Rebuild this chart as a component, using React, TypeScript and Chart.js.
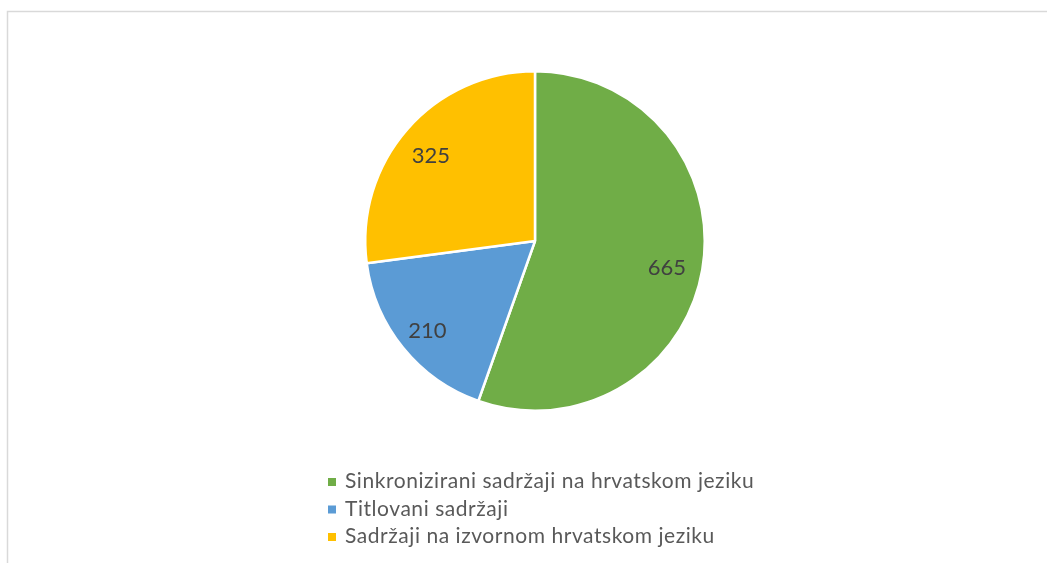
import React, { useEffect, useRef } from "react";
import { Chart, registerables } from "chart.js";

Chart.register(...registerables);

const categories = [
  "Sinkronizirani sadržaji na hrvatskom jeziku",
  "Titlovani sadržaji",
  "Sadržaji na izvornom hrvatskom jeziku",
];
const values = [665, 210, 325];
const colors = ["#70AD47", "#5B9BD5", "#FFC000"];

const W = 1047;
const H = 563;

const framePlugin = {
  id: "frame",
  beforeDraw(chart: any) {
    const ctx = chart.ctx;
    ctx.save();
    ctx.fillStyle = "#ffffff";
    ctx.fillRect(0, 0, chart.width, chart.height);
    ctx.strokeStyle = "#d9d9d9";
    ctx.lineWidth = 1.5;
    ctx.strokeRect(7.5, 11.5, chart.width + 20, chart.height + 20);
    ctx.restore();
  },
};

const labelsPlugin = {
  id: "sliceLabels",
  afterDatasetsDraw(chart: any) {
    const ctx = chart.ctx;
    const meta = chart.getDatasetMeta(0);
    const data = chart.data.datasets[0].data as number[];
    ctx.save();
    ctx.font = "22px Lato";
    ctx.fillStyle = "#404040";
    ctx.textAlign = "center";
    ctx.textBaseline = "middle";
    meta.data.forEach((arc: any, i: number) => {
      const p = arc.getProps(["x", "y", "startAngle", "endAngle", "outerRadius"], true);
      const mid = (p.startAngle + p.endAngle) / 2;
      const r = p.outerRadius * 0.8;
      ctx.fillText(String(data[i]), p.x + Math.cos(mid) * r - 2, p.y + Math.sin(mid) * r + 4);
    });
    ctx.restore();
  },
};

const legendPlugin = {
  id: "vertLegend",
  afterDraw(chart: any) {
    const ctx = chart.ctx;
    const labels = chart.data.labels as string[];
    const bg = chart.data.datasets[0].backgroundColor as string[];
    ctx.save();
    ctx.font = "21px Lato";
    try {
      (ctx as any).letterSpacing = "0.55px";
    } catch (e) {}
    ctx.textBaseline = "alphabetic";
    ctx.textAlign = "left";
    const x0 = 328;
    const y0 = 482;
    const step = 27.5;
    labels.forEach((lab, i) => {
      const y = y0 + i * step;
      ctx.fillStyle = bg[i];
      ctx.fillRect(x0, y - 4, 8, 8);
      ctx.fillStyle = "#595959";
      ctx.fillText(lab, x0 + 17, y + 6);
    });
    ctx.restore();
  },
};

export default function App() {
  const ref = useRef<HTMLCanvasElement>(null);
  useEffect(() => {
    if (!ref.current) return;
    const chart = new Chart(ref.current, {
      type: "pie",
      data: {
        labels: categories,
        datasets: [
          {
            data: values,
            backgroundColor: colors,
            borderColor: "#ffffff",
            borderWidth: 2.5,
          },
        ],
      },
      options: {
        animation: false,
        responsive: false,
        maintainAspectRatio: false,
        layout: { padding: { top: 70, bottom: 151, left: 364, right: 341 } },
        plugins: {
          legend: { display: false },
          tooltip: { enabled: false },
        },
      },
      plugins: [framePlugin, labelsPlugin, legendPlugin],
    });
    return () => chart.destroy();
  }, []);
  return (
    <div style={{ position: "absolute", left: 0, top: 0, width: W, height: H }}>
      <canvas ref={ref} width={W} height={H} style={{ width: W, height: H }} />
    </div>
  );
}
